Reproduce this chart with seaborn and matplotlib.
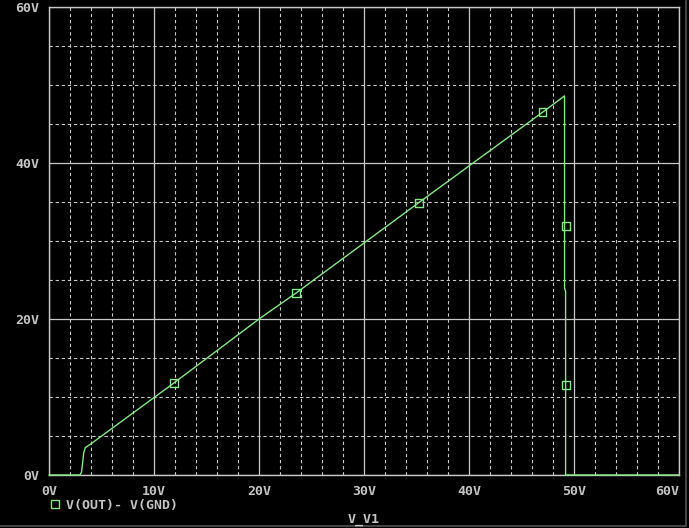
import numpy as np
import pandas as pd
import matplotlib
matplotlib.use("Agg")
import matplotlib.pyplot as plt
from matplotlib.ticker import MultipleLocator
from matplotlib.lines import Line2D
import seaborn as sns

# Sweep of V_V1 vs. V(OUT)-V(GND)
v_in = [0.0, 2.95, 3.1, 3.2, 3.3, 3.45, 4.0, 11.9, 20.0, 23.5, 35.2, 47.0, 49.1, 49.1, 49.2, 49.2, 60.0]
v_out = [0.0, 0.0, 0.4, 1.5, 2.8, 3.5, 4.0, 11.8, 20.0, 23.3, 34.9, 46.5, 48.6, 24.0, 23.5, 0.0, 0.0]

# probe symbols placed along the trace
mark_in = [11.9, 23.5, 35.2, 47.0, 49.2, 49.2]
mark_out = [11.8, 23.3, 34.9, 46.5, 31.9, 11.5]

x_ticks = [0, 10, 20, 30, 40, 50, 60]
x_tick_labels = ["0V", "10V", "20V", "30V", "40V", "50V", "60V"]
y_ticks = [0, 20, 40, 60]
y_tick_labels = ["0V", "20V", "40V", "60V"]

legend_label = "V(OUT)- V(GND)"
x_label = "V_V1"

green = "#86e886"
grid_col = "#c8c8c8"
text_col = "#c4c4c4"
mono = "DejaVu Sans Mono"

sns.set_style("dark")
plt.rcParams["font.family"] = [mono, "DejaVu Sans"]

df = pd.DataFrame({"v_in": v_in, "v_out": v_out})
marks = pd.DataFrame({"v_in": mark_in, "v_out": mark_out})

fig = plt.figure(figsize=(6.89, 5.28), dpi=100, facecolor="black")
ax = fig.add_axes([49 / 689, 53 / 528, 630 / 689, 468 / 528])
ax.set_facecolor("black")

sns.lineplot(data=df, x="v_in", y="v_out", ax=ax, sort=False, estimator=None,
             color=green, linewidth=1.0, clip_on=False, zorder=5)
sns.scatterplot(data=marks, x="v_in", y="v_out", ax=ax, marker="s", s=32,
                facecolor="none", edgecolor=green, linewidth=1.0, zorder=6)
ax.set_xlabel("")
ax.set_ylabel("")

ax.set_xlim(0, 60)
ax.set_ylim(0, 60)
ax.set_xticks(x_ticks)
ax.set_yticks(y_ticks)
xl = ax.set_xticklabels(x_tick_labels, fontweight="bold")
ax.set_yticklabels(y_tick_labels, fontweight="bold")
xl[-1].set_horizontalalignment("right")
ax.xaxis.set_minor_locator(MultipleLocator(2))
ax.yaxis.set_minor_locator(MultipleLocator(5))
ax.grid(True, which="major", color=grid_col, linewidth=0.9, linestyle="-")
ax.grid(True, which="minor", color=grid_col, linewidth=0.8, linestyle=(0, (3, 2.5)))
ax.set_axisbelow(True)
for s in ax.spines.values():
    s.set_color(grid_col)
    s.set_linewidth(1.0)
ax.tick_params(which="both", length=0, colors=text_col, labelsize=9.5)
ax.tick_params(axis="x", pad=7)
ax.tick_params(axis="y", pad=7)

fig.text(364 / 689, 1 - 519 / 528, x_label, color=text_col, fontsize=9.5,
         fontweight="bold", ha="center", va="center")

handle = Line2D([], [], marker="s", linestyle="none", markersize=5.5,
                markerfacecolor="none", markeredgecolor=green, markeredgewidth=1.0)
fig.legend([handle], [legend_label], loc="center left",
           bbox_to_anchor=(40 / 689, 1 - 505 / 528), frameon=False,
           handletextpad=0.3, borderpad=0, handlelength=1.2,
           prop={"family": mono, "size": 9.5, "weight": "bold"},
           labelcolor=text_col)

# thin window frame at right and bottom edges
fig.add_artist(Line2D([686 / 689, 686 / 689], [2 / 528, 1], color="#444444", linewidth=1.5))
fig.add_artist(Line2D([0, 686 / 689], [2.5 / 528, 2.5 / 528], color="#444444", linewidth=1.5))

fig.savefig("out.png", dpi=100, facecolor="black")
